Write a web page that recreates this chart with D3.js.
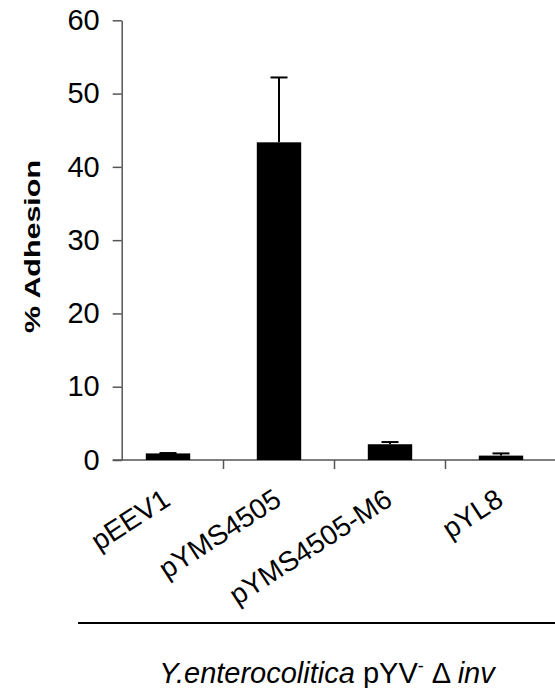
<!DOCTYPE html>
<html>
<head>
<meta charset="utf-8">
<script src="https://cdn.jsdelivr.net/npm/d3@7"></script>
<style>
  html, body { margin: 0; padding: 0; background: #fff; }
  svg { display: block; font-family: Arial, "Liberation Sans", sans-serif; }
</style>
</head>
<body>
<svg id="chart" width="555" height="688"></svg>
<script>
// Adhesion of strains carrying each plasmid
const categories = ["pEEV1", "pYMS4505", "pYMS4505-M6", "pYL8"];
const adhesion = [0.9, 43.35, 2.15, 0.6];
const errorUpper = [0.05, 8.85, 0.3, 0.3];
const yTicks = [0, 10, 20, 30, 40, 50, 60];

const svg = d3.select("#chart");
const W = 555;

const x = d3.scaleBand()
  .domain(categories)
  .range([112.5, 556.5])
  .paddingInner(0.6)
  .paddingOuter(0.3);

const y = d3.scaleLinear().domain([0, 60]).range([460, 20.3]);
const axisX = 121.7;

// value axis
const yAxis = svg.append("g")
  .attr("transform", `translate(${axisX},0)`)
  .call(d3.axisLeft(y).tickValues(yTicks).tickSize(9).tickPadding(13).tickSizeOuter(0));
yAxis.select(".domain").attr("stroke", "#555").attr("stroke-width", 1.5);
yAxis.selectAll(".tick line").attr("stroke", "#555").attr("stroke-width", 1.5);
yAxis.selectAll(".tick text")
  .attr("fill", "#000")
  .style("font-size", "29px")
  .style("font-family", "Arial, 'Liberation Sans', sans-serif");

// category axis baseline and separators
svg.append("line")
  .attr("x1", axisX - 9).attr("x2", W)
  .attr("y1", y(0)).attr("y2", y(0))
  .attr("stroke", "#555").attr("stroke-width", 1.5);

svg.append("g").selectAll("line")
  .data(categories.slice(0, -1))
  .join("line")
  .attr("x1", d => x(d) + x.bandwidth() / 2 + x.step() / 2)
  .attr("x2", d => x(d) + x.bandwidth() / 2 + x.step() / 2)
  .attr("y1", y(0)).attr("y2", y(0) + 9)
  .attr("stroke", "#555").attr("stroke-width", 1.5);

// bars
svg.append("g").selectAll("rect")
  .data(categories)
  .join("rect")
  .attr("x", d => x(d))
  .attr("width", x.bandwidth())
  .attr("y", (d, i) => y(adhesion[i]))
  .attr("height", (d, i) => y(0) - y(adhesion[i]))
  .attr("fill", "#000");

// upper error bars
const err = svg.append("g").attr("stroke", "#000").attr("stroke-width", 2);
categories.forEach((d, i) => {
  const cx = x(d) + x.bandwidth() / 2;
  const top = y(adhesion[i] + errorUpper[i]);
  err.append("line")
    .attr("x1", cx).attr("x2", cx)
    .attr("y1", y(adhesion[i])).attr("y2", top);
  err.append("line")
    .attr("x1", cx - 8.5).attr("x2", cx + 8.5)
    .attr("y1", top).attr("y2", top);
});

// rotated category labels
svg.append("g").selectAll("text")
  .data(categories)
  .join("text")
  .attr("transform", d => `translate(${x(d) + x.bandwidth() / 2 + 4},504) rotate(-33)`)
  .attr("text-anchor", "end")
  .style("font-size", "28px")
  .text(d => d);

// value axis title
svg.append("text")
  .attr("transform", "translate(40,246.5) rotate(-90)")
  .attr("text-anchor", "middle")
  .attr("textLength", 173)
  .attr("lengthAdjust", "spacingAndGlyphs")
  .style("font-size", "22px")
  .style("font-weight", "bold")
  .text("% Adhesion");

// rule above the strain name
svg.append("line")
  .attr("x1", 78).attr("x2", W)
  .attr("y1", 623).attr("y2", 623)
  .attr("stroke", "#000").attr("stroke-width", 2);

// strain name
const title = svg.append("text")
  .attr("x", 327).attr("y", 683)
  .attr("text-anchor", "middle")
  .style("font-size", "29px");
title.append("tspan").style("font-style", "italic").text("Y.enterocolitica");
title.append("tspan").text(" pYV");
title.append("tspan").attr("dy", -11).style("font-size", "18px").text("-");
title.append("tspan").attr("dy", 11).text(" \u0394 ");
title.append("tspan").style("font-style", "italic").text("inv");
</script>
</body>
</html>
